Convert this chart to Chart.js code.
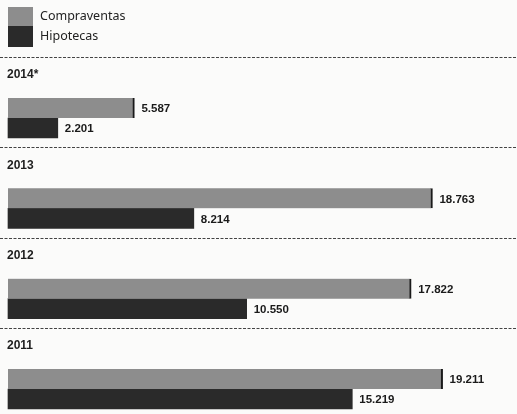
<!DOCTYPE html>
<html>
<head>
<meta charset="utf-8">
<script src="https://cdn.jsdelivr.net/npm/chart.js@4/dist/chart.umd.min.js"></script>
<style>
  html, body { margin: 0; padding: 0; background: #fbfbfa; }
  #wrap { width: 517px; height: 414px; position: relative; }
</style>
</head>
<body>
<div id="wrap"><canvas id="c" width="517" height="414"></canvas></div>
<script>
const categories = ['2014*', '2013', '2012', '2011'];
const seriesNames = ['Compraventas', 'Hipotecas'];
const compraventas = [5587, 18763, 17822, 19211];
const hipotecas = [2201, 8214, 10550, 15219];

const GRAY = '#8d8d8d';
const DARK = '#2a2a2a';

function fmt(v) {
  return String(v).replace(/\B(?=(\d{3})+(?!\d))/g, '.');
}

const decorPlugin = {
  id: 'decor',
  beforeDatasetsDraw(chart) {
    const ctx = chart.ctx;
    const yScale = chart.scales.y;
    ctx.save();
    ctx.strokeStyle = '#444';
    ctx.lineWidth = 1;
    ctx.setLineDash([3, 1.5]);
    categories.forEach((cat, i) => {
      const cy = yScale.getPixelForValue(i);
      const ly = Math.round(cy - 61) + 0.5;
      ctx.beginPath();
      ctx.moveTo(0, ly);
      ctx.lineTo(chart.width, ly);
      ctx.stroke();
    });
    ctx.setLineDash([]);
    ctx.fillStyle = '#1e1e1e';
    ctx.font = 'bold 12px "Liberation Sans", Arial, sans-serif';
    ctx.textBaseline = 'middle';
    ctx.textAlign = 'left';
    categories.forEach((cat, i) => {
      const cy = yScale.getPixelForValue(i);
      ctx.fillText(cat, 7, cy - 43);
    });
    const colors = [GRAY, DARK];
    const boxes = [[7, 19], [26, 21]];
    ctx.font = '12.5px "Noto Sans", "Liberation Sans", sans-serif';
    seriesNames.forEach((name, i) => {
      ctx.fillStyle = colors[i];
      ctx.fillRect(8, boxes[i][0], 25, boxes[i][1]);
      ctx.fillStyle = '#222';
      ctx.fillText(name, 40, boxes[i][0] + boxes[i][1] / 2);
    });
    ctx.restore();
  },
  afterDatasetsDraw(chart) {
    const ctx = chart.ctx;
    ctx.save();
    ctx.fillStyle = '#1a1a1a';
    ctx.font = 'bold 11.5px "Liberation Sans", Arial, sans-serif';
    ctx.textBaseline = 'middle';
    ctx.textAlign = 'left';
    chart.data.datasets.forEach((ds, di) => {
      const meta = chart.getDatasetMeta(di);
      meta.data.forEach((bar, i) => {
        ctx.fillText(fmt(ds.data[i]), bar.x + 7, bar.y + 1);
      });
    });
    ctx.restore();
  }
};

new Chart(document.getElementById('c'), {
  type: 'bar',
  data: {
    labels: categories,
    datasets: [
      {
        label: seriesNames[0],
        data: compraventas,
        backgroundColor: GRAY,
        borderColor: '#1a1a1a',
        borderWidth: { right: 2, left: 0, top: 0, bottom: 0 },
        borderSkipped: false,
        barThickness: 20,
        clip: false
      },
      {
        label: seriesNames[1],
        data: hipotecas,
        backgroundColor: DARK,
        borderWidth: 0,
        barThickness: 20,
        clip: false
      }
    ]
  },
  options: {
    indexAxis: 'y',
    responsive: false,
    animation: false,
    layout: { padding: { left: 8, right: 0, top: 118, bottom: 25 } },
    scales: {
      x: { display: false, min: 0, max: 22500 },
      y: { display: false, offset: false, grid: { display: false } }
    },
    plugins: {
      legend: { display: false },
      tooltip: { enabled: false }
    }
  },
  plugins: [decorPlugin]
});
</script>
</body>
</html>
